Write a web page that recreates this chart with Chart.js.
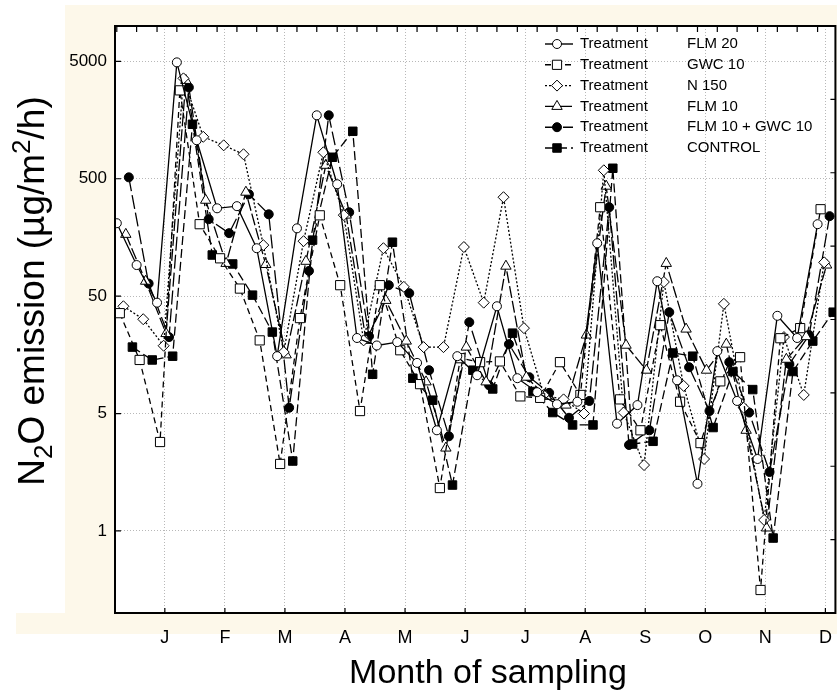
<!DOCTYPE html>
<html>
<head>
<meta charset="utf-8">
<script src="https://cdn.jsdelivr.net/npm/chart.js"></script>
<style>
  html, body { margin: 0; padding: 0; background: #fff; overflow: hidden; }
  #wrap { position: relative; width: 846px; height: 693px; }
</style>
</head>
<body>
<div id="wrap"><canvas id="n2oChart"></canvas></div>
<script>
// month axis
const monthTicks = [1, 2, 3, 4, 5, 6, 7, 8, 9, 10, 11, 12];
const monthLabels = ['J', 'F', 'M', 'A', 'M', 'J', 'J', 'A', 'S', 'O', 'N', 'D'];
const xTitle = 'Month of sampling';

// y axis ticks (log scale) and their printed labels
const yTickValues = [5000, 500, 50, 5, 0.5];
const yTickLabels = ['5000', '500', '50', '5', '1'];

// unlabelled right axis
const rightTicks = [1, 2, 3, 4, 5, 6, 7];

// sampling dates, in months (J = 1)
const sampleMonths = [0.2, 0.53, 0.87, 1.2, 1.53, 1.87, 2.2, 2.53, 2.87, 3.2, 3.53, 3.87,
  4.2, 4.53, 4.87, 5.2, 5.53, 5.87, 6.2, 6.53, 6.87, 7.2, 7.53, 7.87,
  8.2, 8.53, 8.87, 9.2, 9.53, 9.87, 10.2, 10.53, 10.87, 11.2, 11.53, 11.87];

// each treatment was plotted a little later than the previous one
const seriesLag = [0, 0.05, 0.11, 0.15, 0.2, 0.26];

const seriesNames = ['FLM 20', 'GWC 10', 'N 150', 'FLM 10', 'FLM 10 + GWC 10', 'CONTROL'];

const flm20 = [209, 92, 44, 4900, 1064, 280, 292, 128, 15.4, 189, 1735, 449, 22, 19, 20.3, 13.5, 3.6, 15.4,
  10.6, 41, 10, 7.6, 6, 6.3, 141, 4.1, 5.9, 67, 9.6, 1.26, 17, 6.4, 2.05, 34, 22, 205];
const gwc10 = [35.8, 14.3, 2.86, 2830, 205, 105, 58, 21, 1.86, 32.5, 244, 62, 5.25, 62, 17.3, 8.9, 1.16, 14.8,
  13.7, 13.9, 7.0, 6.8, 13.7, 7.2, 286, 6.6, 3.6, 28.3, 6.3, 2.8, 9.4, 15.1, 0.157, 21.9, 26.7, 275];
const n150 = [41, 31.8, 18.9, 3580, 1138, 963, 808, 136, 16.7, 147, 840, 245, 21, 128, 60, 18.4, 18.4, 131,
  44, 348, 26.7, 7.2, 6.6, 5.0, 590, 5.1, 1.82, 66, 8.6, 2.05, 43, 5.6, 0.62, 22.4, 7.2, 97];
const flm10 = [168, 67, 24, 3440, 328, 95, 384, 93, 15.8, 99, 651, 245, 21, 46, 20.7, 9.3, 2.54, 18.4,
  9.3, 90, 10.2, 7.0, 5.9, 23.3, 432, 19.1, 11.7, 95, 26.2, 11.7, 19.5, 3.6, 0.53, 14.5, 22.6, 92];
const flm10gwc10 = [514, 64, 22.4, 3000, 226, 172, 369, 249, 5.6, 82, 1735, 259, 22.8, 62, 53, 11.7, 3.2, 30,
  8.7, 19.5, 10.2, 7.5, 4.6, 6.4, 286, 2.7, 3.6, 36.5, 12.4, 5.25, 13.7, 5.1, 1.59, 13.2, 23.3, 240];
const control = [18.4, 14.3, 15.4, 1455, 112, 94, 51, 24.7, 1.97, 150, 762, 1268, 10.8, 144, 10, 6.5, 1.23, 11.7,
  8.1, 24.2, 7.7, 5.1, 4.0, 4.0, 614, 2.75, 2.9, 16.4, 15.4, 3.8, 11.4, 8.0, 0.435, 11.4, 20.7, 36.5];

const seriesValues = [flm20, gwc10, n150, flm10, flm10gwc10, control];

// marker / line look of each treatment
const seriesLook = [
  { shape: 'circle', fill: '#ffffff', dash: [], r: 4.5 },
  { shape: 'rect', fill: '#ffffff', dash: [6, 4], r: 6.5 },
  { shape: 'rectRot', fill: '#ffffff', dash: [2, 2], r: 5.5 },
  { shape: 'triangle', fill: '#ffffff', dash: [12, 3], r: 6 },
  { shape: 'circle', fill: '#000000', dash: [14, 4], r: 4.5 },
  { shape: 'rect', fill: '#000000', dash: [9, 4], r: 6 }
];

const FONT = "'Liberation Sans', Arial, sans-serif";

const paperBackground = {
  id: 'paperBackground',
  beforeDraw(chart) {
    const { ctx, chartArea: a } = chart;
    ctx.save();
    ctx.fillStyle = '#ffffff';
    ctx.fillRect(0, 0, chart.width, chart.height);
    ctx.fillStyle = '#fdf8ea';
    ctx.fillRect(65, 5, chart.width - 65, a.bottom - 5);
    ctx.fillRect(16, a.bottom, chart.width - 16, 21);
    ctx.fillStyle = '#ffffff';
    ctx.fillRect(a.left, a.top, a.right - a.left, a.bottom - a.top);
    ctx.restore();
  }
};

const frameAndTicks = {
  id: 'frameAndTicks',
  afterDraw(chart) {
    const { ctx, chartArea: a, scales } = chart;
    ctx.save();
    ctx.strokeStyle = '#000';
    ctx.setLineDash([]);
    ctx.lineWidth = 1.2;
    ctx.beginPath();
    scales.y.ticks.forEach(t => {
      const y = scales.y.getPixelForValue(t.value);
      ctx.moveTo(a.left, y); ctx.lineTo(a.left + 6, y);
    });
    scales.x.ticks.forEach(t => {
      const x = scales.x.getPixelForValue(t.value);
      ctx.moveTo(x, a.bottom); ctx.lineTo(x, a.bottom - 5);
    });
    sampleMonths.forEach(m => {
      const x = scales.x.getPixelForValue(m);
      ctx.moveTo(x, a.top); ctx.lineTo(x, a.top + 6);
    });
    rightTicks.forEach(v => {
      const y = scales.y2.getPixelForValue(v);
      ctx.moveTo(a.right, y); ctx.lineTo(a.right - 5, y);
    });
    ctx.stroke();
    ctx.lineWidth = 2;
    ctx.strokeRect(a.left, a.top, a.right - a.left, a.bottom - a.top);
    ctx.restore();
  }
};

const legendAndTitles = {
  id: 'legendAndTitles',
  afterDraw(chart) {
    const ctx = chart.ctx;
    ctx.save();
    // legend inside the plot
    chart.data.datasets.forEach((ds, i) => {
      const y = 44 + i * 20.8;
      ctx.strokeStyle = '#000';
      ctx.lineWidth = 1.4;
      ctx.setLineDash(ds.borderDash);
      ctx.beginPath();
      ctx.moveTo(545, y); ctx.lineTo(573, y);
      ctx.stroke();
      ctx.setLineDash([]);
      ctx.fillStyle = ds.pointBackgroundColor;
      ctx.lineWidth = 1;
      Chart.helpers.drawPoint(ctx, { pointStyle: ds.pointStyle, radius: ds.pointRadius, borderWidth: 1, rotation: 0 }, 557, y);
      ctx.fillStyle = '#000';
      ctx.font = '15px ' + FONT;
      ctx.textBaseline = 'middle';
      ctx.textAlign = 'left';
      ctx.fillText('Treatment', 580, y);
      ctx.fillText(ds.label, 687, y);
    });

    // x title
    ctx.font = '34px ' + FONT;
    ctx.textAlign = 'center';
    ctx.textBaseline = 'alphabetic';
    ctx.fillText(xTitle, 488, 683);

    // rotated y title with sub / superscript
    const parts = [
      { t: 'N', size: 37, dy: 0 },
      { t: '2', size: 26, dy: 8 },
      { t: 'O emission (\u00b5g/m', size: 37, dy: 0 },
      { t: '2', size: 26, dy: -14 },
      { t: '/h)', size: 37, dy: 0 }
    ];
    let total = 0;
    parts.forEach(p => { ctx.font = p.size + 'px ' + FONT; p.w = ctx.measureText(p.t).width; total += p.w; });
    ctx.translate(44, 291);
    ctx.rotate(-Math.PI / 2);
    ctx.textAlign = 'left';
    let x = -total / 2;
    parts.forEach(p => {
      ctx.font = p.size + 'px ' + FONT;
      ctx.fillText(p.t, x, p.dy);
      x += p.w;
    });
    ctx.restore();
  }
};

new Chart(document.getElementById('n2oChart'), {
  type: 'line',
  data: {
    datasets: seriesNames.map((name, s) => ({
      label: name,
      data: seriesValues[s].map((v, i) => ({ x: sampleMonths[i] + seriesLag[s], y: v })),
      borderColor: '#000',
      borderWidth: 1.3,
      borderDash: seriesLook[s].dash,
      pointStyle: seriesLook[s].shape,
      pointRadius: seriesLook[s].r,
      pointBackgroundColor: seriesLook[s].fill,
      pointBorderColor: '#000',
      pointBorderWidth: 1,
      tension: 0,
      fill: false
    }))
  },
  options: {
    responsive: true,
    maintainAspectRatio: false,
    animation: false,
    events: [],
    layout: { padding: { top: 26, right: 8, left: 0, bottom: 0 } },
    plugins: { legend: { display: false }, tooltip: { enabled: false } },
    scales: {
      x: {
        type: 'linear',
        min: 0.17,
        max: 12.167,
        afterBuildTicks: s => { s.ticks = monthTicks.map(v => ({ value: v })); },
        afterFit: s => { s.height = 80; },
        ticks: {
          autoSkip: false,
          maxRotation: 0,
          padding: 14,
          color: '#000',
          font: { family: FONT, size: 18 },
          callback: (v, i) => monthLabels[i]
        },
        grid: { color: '#b8b8b8', lineWidth: 1, drawTicks: false },
        border: { display: false, dash: [1, 2] }
      },
      y: {
        type: 'logarithmic',
        min: 0.1,
        max: 10000,
        afterBuildTicks: s => { s.ticks = yTickValues.map(v => ({ value: v })); },
        afterFit: s => { s.width = 115; },
        ticks: {
          padding: 8,
          color: '#000',
          font: { family: FONT, size: 17 },
          callback: (v, i) => yTickLabels[i]
        },
        grid: { color: '#b8b8b8', lineWidth: 1, drawTicks: false },
        border: { display: false, dash: [1, 2] }
      },
      y2: {
        type: 'linear',
        position: 'right',
        display: false,
        min: 0,
        max: 8
      }
    }
  },
  plugins: [paperBackground, frameAndTicks, legendAndTitles]
});
</script>
</body>
</html>
